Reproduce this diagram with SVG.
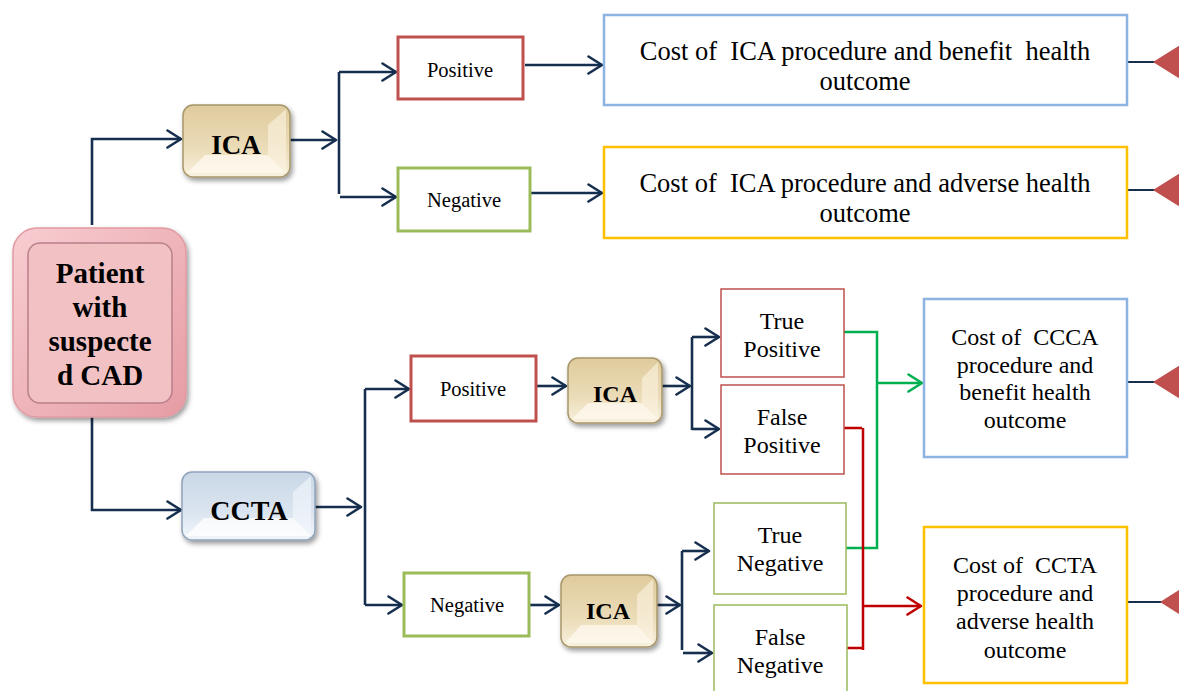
<svg xmlns="http://www.w3.org/2000/svg" width="1179" height="691" viewBox="0 0 1179 691">
<defs>
<style>
.t{font-family:"Liberation Serif","Times New Roman",serif;fill:#000;text-anchor:middle;white-space:pre}
.b{font-weight:bold}
.c{fill:none;stroke:#172f4f;stroke-width:2.6}
.box{fill:#fff}
.tri{fill:#c0504d}
.side{stroke:#172f4f;stroke-width:1.8}
</style>
<marker id="ah" viewBox="0 0 17 20" refX="15" refY="10" markerWidth="17" markerHeight="20" markerUnits="userSpaceOnUse" orient="auto">
<path d="M1.5,1.5 L15,10 L1.5,18.5" fill="none" stroke="#172f4f" stroke-width="2.6" stroke-linecap="round" stroke-linejoin="round"/>
</marker>
<marker id="ahg" viewBox="0 0 17 20" refX="15" refY="10" markerWidth="17" markerHeight="20" markerUnits="userSpaceOnUse" orient="auto">
<path d="M1.5,1.5 L15,10 L1.5,18.5" fill="none" stroke="#00b050" stroke-width="2.6" stroke-linecap="round" stroke-linejoin="round"/>
</marker>
<marker id="ahr" viewBox="0 0 17 20" refX="15" refY="10" markerWidth="17" markerHeight="20" markerUnits="userSpaceOnUse" orient="auto">
<path d="M1.5,1.5 L15,10 L1.5,18.5" fill="none" stroke="#c00000" stroke-width="2.6" stroke-linecap="round" stroke-linejoin="round"/>
</marker>
<linearGradient id="gIca" x1="0" y1="0" x2="0" y2="1">
<stop offset="0" stop-color="#dfcb9c"/>
<stop offset="0.6" stop-color="#ebdcb8"/>
<stop offset="1" stop-color="#f8f1de"/>
</linearGradient>
<linearGradient id="gCcta" x1="0" y1="0" x2="0" y2="1">
<stop offset="0" stop-color="#c9d7e6"/>
<stop offset="0.6" stop-color="#dbe5f0"/>
<stop offset="1" stop-color="#f2f6fa"/>
</linearGradient>
<linearGradient id="gPat" x1="0" y1="0" x2="1" y2="1">
<stop offset="0" stop-color="#f7cdd1"/>
<stop offset="1" stop-color="#e69ca4"/>
</linearGradient>
<filter id="sh" x="-20%" y="-20%" width="150%" height="150%">
<feDropShadow dx="2" dy="3" stdDeviation="2.5" flood-color="#000" flood-opacity="0.4"/>
</filter>
</defs>

<g id="connectors">
<path class="c" d="M92,225 V139 H181" marker-end="url(#ah)"/>
<path class="c" d="M92,417 V510 H181" marker-end="url(#ah)"/>
<path class="c" d="M290,140 H336" marker-end="url(#ah)"/>
<path class="c" d="M339,72 V194"/>
<path class="c" d="M339,72 H396" marker-end="url(#ah)"/>
<path class="c" d="M340,197 H396" marker-end="url(#ah)"/>
<path class="c" d="M525,65 H602" marker-end="url(#ah)"/>
<path class="c" d="M531,193 H602" marker-end="url(#ah)"/>
<path class="c" d="M315,507 H361" marker-end="url(#ah)"/>
<path class="c" d="M365,389 V605"/>
<path class="c" d="M365,389 H409" marker-end="url(#ah)"/>
<path class="c" d="M365,605 H402" marker-end="url(#ah)"/>
<path class="c" d="M537,386 H566" marker-end="url(#ah)"/>
<path class="c" d="M662,386 H690" marker-end="url(#ah)"/>
<path class="c" d="M692,337 V430"/>
<path class="c" d="M692,337 H719" marker-end="url(#ah)"/>
<path class="c" d="M692,429 H719" marker-end="url(#ah)"/>
<path class="c" d="M530,605 H559" marker-end="url(#ah)"/>
<path class="c" d="M657,605 H680" marker-end="url(#ah)"/>
<path class="c" d="M682,551 V650"/>
<path class="c" d="M682,551 H709" marker-end="url(#ah)"/>
<path class="c" d="M683,653 H712" marker-end="url(#ah)"/>
<path d="M844,332 H877 V548 H846" fill="none" stroke="#00b050" stroke-width="2.5"/>
<path d="M877,383 H922" fill="none" stroke="#00b050" stroke-width="2.5" marker-end="url(#ahg)"/>
<path d="M844,428 H862 M863,428 V650 M846,648 H862" fill="none" stroke="#c00000" stroke-width="2.5"/>
<path d="M863,606 H921" fill="none" stroke="#c00000" stroke-width="2.5" marker-end="url(#ahr)"/>
<path class="side" d="M1127,62 H1160 M1127,190 H1160 M1127,382 H1160 M1127,602 H1165"/>
<polygon class="tri" points="1153,62 1185,42 1185,82"/>
<polygon class="tri" points="1153,190 1185,170 1185,210"/>
<polygon class="tri" points="1153,382 1185,362 1185,402"/>
<polygon class="tri" points="1160,602 1190,583 1190,621"/>
</g>

<g id="patient">
<rect x="13" y="228" width="173" height="189" rx="24" fill="url(#gPat)" stroke="#e29aa2" stroke-width="1.5" filter="url(#sh)"/>
<rect x="28" y="243" width="144" height="160" rx="12" fill="#f2c1c4" stroke="#b9808a" stroke-width="1.5"/>
<text class="t b" x="100" y="283" font-size="29">Patient</text>
<text class="t b" x="100" y="317" font-size="29">with</text>
<text class="t b" x="100" y="351" font-size="29">suspecte</text>
<text class="t b" x="100" y="385" font-size="29">d CAD</text>
</g>

<g id="ica1">
<rect x="183" y="105" width="107" height="72" rx="10" fill="url(#gIca)" stroke="#a8966a" stroke-width="1.5" filter="url(#sh)"/>
<polygon points="187,173 286,173 268,155 205,155" fill="#fffaf0" opacity="0.75"/>
<polygon points="286,109 286,173 268,155 268,125" fill="#fbf4e2" opacity="0.6"/>
<text class="t b" x="236" y="154" font-size="27">ICA</text>
</g>

<g id="ccta">
<rect x="182" y="472" width="133" height="68" rx="10" fill="url(#gCcta)" stroke="#8ea3ba" stroke-width="1.5" filter="url(#sh)"/>
<polygon points="186,536 311,536 293,518 204,518" fill="#ffffff" opacity="0.75"/>
<polygon points="311,476 311,536 293,518 293,492" fill="#f4f8fc" opacity="0.6"/>
<text class="t b" x="249" y="520" font-size="28">CCTA</text>
</g>

<g id="pos1">
<rect class="box" x="398" y="37" width="125" height="62" stroke="#c0504d" stroke-width="3"/>
<text class="t" x="460" y="77" font-size="20.5">Positive</text>
</g>

<g id="neg1">
<rect class="box" x="398" y="168" width="132" height="63" stroke="#9bbb59" stroke-width="3"/>
<text class="t" x="464" y="207" font-size="20.5">Negative</text>
</g>

<g id="cost1">
<rect class="box" x="604" y="15" width="523" height="90" stroke="#8db3e2" stroke-width="2.5"/>
<text class="t" x="865" y="60" font-size="26.5">Cost of  ICA procedure and benefit  health</text>
<text class="t" x="865" y="90" font-size="26.5">outcome</text>
</g>

<g id="cost2">
<rect class="box" x="604" y="147" width="523" height="91" stroke="#ffc000" stroke-width="2.5"/>
<text class="t" x="865" y="192" font-size="26.5">Cost of  ICA procedure and adverse health</text>
<text class="t" x="865" y="222" font-size="26.5">outcome</text>
</g>

<g id="pos2">
<rect class="box" x="411" y="356" width="125" height="65" stroke="#c0504d" stroke-width="3"/>
<text class="t" x="473" y="396" font-size="20.5">Positive</text>
</g>

<g id="neg2">
<rect class="box" x="404" y="573" width="125" height="63" stroke="#9bbb59" stroke-width="3"/>
<text class="t" x="467" y="612" font-size="20.5">Negative</text>
</g>

<g id="ica2">
<rect x="568" y="358" width="94" height="65" rx="10" fill="url(#gIca)" stroke="#a8966a" stroke-width="1.5" filter="url(#sh)"/>
<polygon points="572,419 658,419 642,403 588,403" fill="#fffaf0" opacity="0.75"/>
<polygon points="658,362 658,419 642,403 642,378" fill="#fbf4e2" opacity="0.6"/>
<text class="t b" x="615" y="402" font-size="24">ICA</text>
</g>

<g id="ica3">
<rect x="561" y="575" width="96" height="72" rx="10" fill="url(#gIca)" stroke="#a8966a" stroke-width="1.5" filter="url(#sh)"/>
<polygon points="565,643 653,643 637,625 581,625" fill="#fffaf0" opacity="0.75"/>
<polygon points="653,579 653,643 637,625 637,595" fill="#fbf4e2" opacity="0.6"/>
<text class="t b" x="608" y="619" font-size="24">ICA</text>
</g>

<g id="tp">
<rect class="box" x="721" y="289" width="123" height="88" stroke="#c0504d" stroke-width="1.5"/>
<text class="t" x="782" y="329" font-size="24">True</text>
<text class="t" x="782" y="357" font-size="24">Positive</text>
</g>

<g id="fp">
<rect class="box" x="721" y="385" width="123" height="89" stroke="#c0504d" stroke-width="1.5"/>
<text class="t" x="782" y="425" font-size="24">False</text>
<text class="t" x="782" y="453" font-size="24">Positive</text>
</g>

<g id="tn">
<rect class="box" x="714" y="503" width="132" height="91" stroke="#9bbb59" stroke-width="1.5"/>
<text class="t" x="780" y="543" font-size="24">True</text>
<text class="t" x="780" y="571" font-size="24">Negative</text>
</g>

<g id="fn">
<rect class="box" x="714" y="605" width="133" height="95" stroke="#9bbb59" stroke-width="1.5"/>
<text class="t" x="780" y="645" font-size="24">False</text>
<text class="t" x="780" y="673" font-size="24">Negative</text>
</g>

<g id="cost3">
<rect class="box" x="924" y="299" width="203" height="158" stroke="#8db3e2" stroke-width="2.5"/>
<text class="t" x="1025" y="345" font-size="24">Cost of  CCCA</text>
<text class="t" x="1025" y="373" font-size="24">procedure and</text>
<text class="t" x="1025" y="400" font-size="24">benefit health</text>
<text class="t" x="1025" y="428" font-size="24">outcome</text>
</g>

<g id="cost4">
<rect class="box" x="924" y="527" width="203" height="156" stroke="#ffc000" stroke-width="2.5"/>
<text class="t" x="1025" y="573" font-size="24">Cost of  CCTA</text>
<text class="t" x="1025" y="601" font-size="24">procedure and</text>
<text class="t" x="1025" y="629" font-size="24">adverse health</text>
<text class="t" x="1025" y="658" font-size="24">outcome</text>
</g>
</svg>
